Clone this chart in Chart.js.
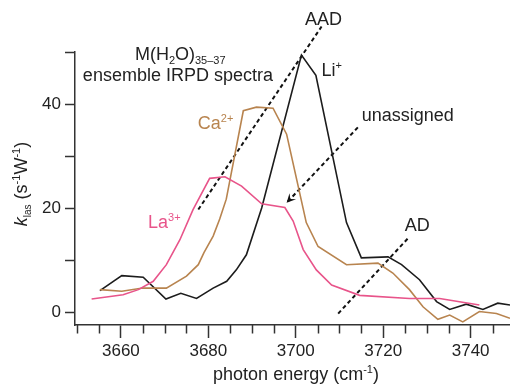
<!DOCTYPE html>
<html lang="en">
<head>
<meta charset="UTF-8">
<title>M(H2O)35-37 ensemble IRPD spectra</title>
<script src="https://cdn.jsdelivr.net/npm/chart.js"></script>
<style>
  html, body { margin: 0; padding: 0; background: #ffffff; }
  #wrap { width: 510px; height: 386px; }
</style>
</head>
<body>
<div id="wrap"><canvas id="irpd" width="510" height="386"></canvas></div>
<script>
// values (photon energy in cm-1, k_las in s-1 W-1)
const liX = [3655.2, 3660.2, 3665.1, 3670.3, 3673.7, 3677.3, 3681.1, 3684.2, 3686.4, 3688.7, 3692.2,
             3701.3, 3704.6, 3711.6, 3715.0, 3721.1, 3724.2, 3728.3, 3732.2, 3735.2, 3739.0, 3742.8, 3746.2, 3749.0];
const liY = [4.1, 7.0, 6.7, 2.5, 3.6, 2.6, 4.6, 5.9, 8.1, 11.0, 20.0,
             49.4, 45.5, 17.2, 10.4, 10.6, 9.1, 6.2, 2.0, 0.5, 1.5, 0.5, 1.7, 1.35];

const caX = [3655.2, 3660.2, 3665.0, 3670.4, 3675.0, 3677.7, 3679.0, 3681.1, 3682.6, 3684.1, 3688.0, 3691.0,
             3694.8, 3697.9, 3700.2, 3702.4, 3705.1, 3711.6, 3718.8, 3722.2, 3726.0, 3729.1, 3732.5, 3735.2,
             3738.2, 3742.0, 3745.9, 3749.0];
const caY = [4.3, 4.0, 4.6, 4.6, 6.9, 9.1, 11.4, 14.6, 17.9, 21.7, 38.7, 39.4,
             39.2, 34.2, 25.5, 17.2, 12.6, 9.1, 9.4, 7.5, 4.3, 1.0, -1.4, -0.6,
             -1.9, 0.1, -0.3, -1.2];

const laX = [3653.3, 3660.5, 3664.0, 3667.4, 3670.4, 3673.5, 3676.5, 3680.3, 3683.8, 3687.6, 3692.2,
             3697.5, 3699.4, 3701.7, 3704.7, 3708.2, 3714.6, 3726.0, 3732.9, 3742.0];
const laY = [2.5, 3.3, 4.3, 5.9, 9.1, 13.9, 19.7, 25.7, 26.0, 24.2, 20.8,
             20.1, 17.5, 12.0, 8.1, 5.2, 3.2, 2.6, 2.6, 1.35];

// dashed assignment guides
const aadX = [3677.7, 3705.9];
const aadY = [19.7, 54.9];
const unassignedX = [3714.2, 3697.9];
const unassignedY = [35.5, 21.0];
const adX = [3709.7, 3725.7];
const adY = [-0.3, 14.2];

// axis ticks
const xTicks = [3650, 3655, 3660, 3665, 3670, 3675, 3680, 3685, 3690, 3695, 3700,
                3705, 3710, 3715, 3720, 3725, 3730, 3735, 3740, 3745];
const xLabeled = [3660, 3680, 3700, 3720, 3740];
const yTicks = [0, 10, 20, 30, 40, 50];
const yLabeled = [0, 20, 40];

const FONT = '"Liberation Sans", Arial, Helvetica, sans-serif';
const INK = '#222222';
const AXIS = '#333333';
const LI_COLOR = '#1c1c1c';
const CA_COLOR = '#b8844f';
const LA_COLOR = '#e8548a';

function pts(xs, ys) {
    return xs.map((x, i) => ({ x: x, y: ys[i] }));
}

// draw a run of text pieces (sub/superscripts) starting at x
function richText(ctx, x, y, parts, color) {
    let cx = x;
    parts.forEach(p => {
        ctx.font = (p.it ? 'italic ' : '') + p.s + 'px ' + FONT;
        ctx.fillStyle = color;
        ctx.fillText(p.t, cx, y + (p.dy || 0));
        cx += ctx.measureText(p.t).width;
    });
}
function richWidth(ctx, parts) {
    let w = 0;
    parts.forEach(p => {
        ctx.font = (p.it ? 'italic ' : '') + p.s + 'px ' + FONT;
        w += ctx.measureText(p.t).width;
    });
    return w;
}

// text annotations, anchored at (left, baseline) in data units
const notes = [
    { x: 3663.2, y: 48.4, color: INK, parts: [{t: 'M(H', s: 18}, {t: '2', s: 11, dy: 4}, {t: 'O)', s: 18}, {t: '35–37', s: 11, dy: 4}] },
    { x: 3651.3, y: 44.5, color: INK, parts: [{t: 'ensemble IRPD spectra', s: 18}] },
    { x: 3702.1, y: 55.1, color: INK, parts: [{t: 'AAD', s: 18}] },
    { x: 3705.9, y: 45.3, color: INK, parts: [{t: 'Li', s: 18}, {t: '+', s: 11, dy: -7}] },
    { x: 3715.1, y: 36.7, color: INK, parts: [{t: 'unassigned', s: 18}] },
    { x: 3724.9, y: 15.5, color: INK, parts: [{t: 'AD', s: 18}] },
    { x: 3677.6, y: 35.2, color: CA_COLOR, parts: [{t: 'Ca', s: 18}, {t: '2+', s: 11, dy: -7}] },
    { x: 3666.2, y: 16.2, color: LA_COLOR, parts: [{t: 'La', s: 18}, {t: '3+', s: 11, dy: -7}] }
];

const overlay = {
    id: 'overlay',
    afterDatasetsDraw(chart) {
        // arrow head at the end of the "unassigned" guide
        const meta = chart.getDatasetMeta(4);
        const a = meta.data[0], b = meta.data[1];
        const ang = Math.atan2(b.y - a.y, b.x - a.x);
        const ctx = chart.ctx;
        const len = 9, half = 4.5;
        ctx.save();
        ctx.translate(b.x, b.y);
        ctx.rotate(ang);
        ctx.beginPath();
        ctx.moveTo(0, 0);
        ctx.lineTo(-len, -half);
        ctx.lineTo(-len * 0.6, 0);
        ctx.lineTo(-len, half);
        ctx.closePath();
        ctx.fillStyle = '#111';
        ctx.fill();
        ctx.restore();
    },
    afterDraw(chart) {
        const ctx = chart.ctx;
        const xs = chart.scales.x, ys = chart.scales.y;
        const area = chart.chartArea;
        ctx.save();
        // short minor ticks on the x axis
        ctx.strokeStyle = AXIS;
        ctx.lineWidth = 1.5;
        xTicks.filter(v => !xLabeled.includes(v)).forEach(v => {
            const px = Math.round(xs.getPixelForValue(v)) + 0.5;
            ctx.beginPath();
            ctx.moveTo(px, area.bottom);
            ctx.lineTo(px, area.bottom + 8.5);
            ctx.stroke();
        });
        // annotations
        ctx.textBaseline = 'alphabetic';
        ctx.textAlign = 'left';
        notes.forEach(n => {
            richText(ctx, xs.getPixelForValue(n.x), ys.getPixelForValue(n.y), n.parts, n.color);
        });
        // x axis title
        const xt = [{t: 'photon energy (cm', s: 18}, {t: '-1', s: 11, dy: -7}, {t: ')', s: 18}];
        const xw = richWidth(ctx, xt);
        richText(ctx, 296 - xw / 2, 380, xt, INK);
        // y axis title, rotated
        const yt = [{t: 'k', s: 18, it: true}, {t: 'las', s: 10, dy: 4}, {t: ' (s', s: 18},
                    {t: '-1', s: 11, dy: -7}, {t: 'W', s: 18}, {t: '-1', s: 11, dy: -7}, {t: ')', s: 18}];
        const yw = richWidth(ctx, yt);
        ctx.translate(27, 184);
        ctx.rotate(-Math.PI / 2);
        richText(ctx, -yw / 2, 0, yt, INK);
        ctx.restore();
    }
};

const guide = (xs, ys) => ({
    data: pts(xs, ys),
    borderColor: '#111',
    borderWidth: 2,
    borderDash: [4, 3],
    pointRadius: 0,
    clip: false
});

new Chart(document.getElementById('irpd'), {
    type: 'line',
    data: {
        datasets: [
            { label: 'La3+', data: pts(laX, laY), borderColor: LA_COLOR, borderWidth: 1.6, pointRadius: 0 },
            { label: 'Ca2+', data: pts(caX, caY), borderColor: CA_COLOR, borderWidth: 1.6, pointRadius: 0 },
            { label: 'Li+', data: pts(liX, liY), borderColor: LI_COLOR, borderWidth: 1.6, pointRadius: 0 },
            Object.assign({ label: 'AAD' }, guide(aadX, aadY)),
            Object.assign({ label: 'unassigned' }, guide(unassignedX, unassignedY)),
            Object.assign({ label: 'AD' }, guide(adX, adY))
        ]
    },
    options: {
        responsive: false,
        devicePixelRatio: 1,
        animation: false,
        layout: { padding: { top: 52, right: 0, left: 0, bottom: 0 } },
        plugins: { legend: { display: false }, tooltip: { enabled: false } },
        elements: { line: { tension: 0 } },
        scales: {
            x: {
                type: 'linear',
                min: 3649.5,
                max: 3749,
                afterBuildTicks: s => { s.ticks = xTicks.map(v => ({ value: v })); },
                afterFit: s => { s.height = 61; },
                ticks: {
                    autoSkip: false,
                    maxRotation: 0,
                    padding: 3,
                    color: INK,
                    font: { family: FONT, size: 17 },
                    callback: v => xLabeled.includes(v) ? String(v) : ''
                },
                grid: {
                    drawOnChartArea: false,
                    tickLength: 13,
                    tickWidth: 1.5,
                    tickColor: c => (c.tick && xLabeled.includes(c.tick.value)) ? AXIS : 'rgba(0,0,0,0)'
                },
                border: { color: AXIS, width: 1.5 }
            },
            y: {
                min: -2.5,
                max: 50,
                afterBuildTicks: s => { s.ticks = yTicks.map(v => ({ value: v })); },
                afterFit: s => { s.width = 75; },
                ticks: {
                    padding: 4,
                    color: INK,
                    font: { family: FONT, size: 17 },
                    callback: v => yLabeled.includes(v) ? String(v) : ''
                },
                grid: {
                    drawOnChartArea: false,
                    tickLength: 10,
                    tickWidth: 1.5,
                    tickColor: AXIS
                },
                border: { color: AXIS, width: 1.5 }
            }
        }
    },
    plugins: [overlay]
});
</script>
</body>
</html>
